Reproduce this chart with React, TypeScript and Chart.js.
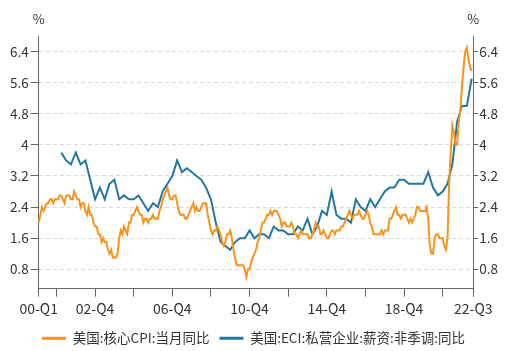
import React, { useEffect, useRef } from "react";
import { Chart, registerables } from "chart.js";

Chart.register(...registerables);

// US core CPI YoY (%), monthly 2000-01 .. 2022-06
const cpiCore2000 = [2.0, 2.2, 2.4, 2.3, 2.4, 2.5, 2.5, 2.6, 2.6, 2.5, 2.6, 2.6];
const cpiCore2001 = [2.6, 2.7, 2.7, 2.6, 2.5, 2.7, 2.7, 2.7, 2.6, 2.6, 2.8, 2.7];
const cpiCore2002 = [2.6, 2.6, 2.4, 2.5, 2.5, 2.3, 2.2, 2.4, 2.2, 2.2, 2.0, 1.9];
const cpiCore2003 = [1.9, 1.7, 1.7, 1.5, 1.6, 1.5, 1.5, 1.3, 1.2, 1.3, 1.1, 1.1];
const cpiCore2004 = [1.1, 1.2, 1.6, 1.8, 1.7, 1.9, 1.8, 1.7, 2.0, 2.0, 2.2, 2.2];
const cpiCore2005 = [2.3, 2.4, 2.3, 2.2, 2.2, 2.0, 2.1, 2.1, 2.0, 2.1, 2.1, 2.2];
const cpiCore2006 = [2.1, 2.1, 2.1, 2.3, 2.4, 2.6, 2.7, 2.8, 2.9, 2.7, 2.6, 2.6];
const cpiCore2007 = [2.7, 2.7, 2.5, 2.3, 2.2, 2.2, 2.2, 2.1, 2.1, 2.2, 2.3, 2.4];
const cpiCore2008 = [2.5, 2.3, 2.4, 2.3, 2.3, 2.4, 2.5, 2.5, 2.5, 2.2, 2.0, 1.8];
const cpiCore2009 = [1.7, 1.8, 1.8, 1.9, 1.8, 1.7, 1.5, 1.4, 1.5, 1.7, 1.7, 1.8];
const cpiCore2010 = [1.6, 1.3, 1.1, 0.9, 0.9, 0.9, 0.9, 0.9, 0.8, 0.6, 0.8, 0.8];
const cpiCore2011 = [1.0, 1.1, 1.2, 1.3, 1.5, 1.6, 1.8, 2.0, 2.0, 2.1, 2.2, 2.2];
const cpiCore2012 = [2.3, 2.2, 2.3, 2.3, 2.3, 2.2, 2.1, 1.9, 2.0, 2.0, 1.9, 1.9];
const cpiCore2013 = [1.9, 2.0, 1.9, 1.7, 1.7, 1.6, 1.7, 1.8, 1.7, 1.7, 1.7, 1.7];
const cpiCore2014 = [1.6, 1.6, 1.7, 1.8, 2.0, 1.9, 1.9, 1.7, 1.7, 1.8, 1.7, 1.6];
const cpiCore2015 = [1.6, 1.7, 1.8, 1.8, 1.7, 1.8, 1.8, 1.8, 1.9, 1.9, 2.0, 2.1];
const cpiCore2016 = [2.2, 2.3, 2.2, 2.1, 2.2, 2.2, 2.2, 2.3, 2.2, 2.1, 2.1, 2.2];
const cpiCore2017 = [2.3, 2.2, 2.0, 1.9, 1.7, 1.7, 1.7, 1.7, 1.7, 1.8, 1.7, 1.8];
const cpiCore2018 = [1.8, 1.8, 2.1, 2.1, 2.2, 2.3, 2.4, 2.2, 2.2, 2.1, 2.2, 2.2];
const cpiCore2019 = [2.2, 2.1, 2.0, 2.1, 2.0, 2.1, 2.2, 2.4, 2.4, 2.3, 2.3, 2.3];
const cpiCore2020 = [2.3, 2.4, 2.1, 1.4, 1.2, 1.2, 1.6, 1.7, 1.7, 1.6, 1.6, 1.6];
const cpiCore2021 = [1.4, 1.3, 1.6, 3.0, 3.8, 4.5, 4.3, 4.0, 4.0, 4.6, 4.9, 5.5];
const cpiCore2022 = [6.0, 6.4, 6.5, 6.2, 6.0, 5.9];

// US ECI private wages & salaries YoY (%), quarterly 2001-Q1 .. 2022-Q2
const eciValues = [
  3.8, 3.6, 3.5, 3.8,
  3.5, 3.6, 3.1, 2.6,
  2.9, 2.6, 3.0, 3.1,
  2.6, 2.7, 2.6, 2.6,
  2.7, 2.5, 2.3, 2.5,
  2.4, 2.8, 3.0, 3.2,
  3.6, 3.3, 3.4, 3.3,
  3.2, 3.1, 2.9, 2.6,
  2.0, 1.5, 1.4, 1.3,
  1.5, 1.6, 1.6, 1.8,
  1.6, 1.7, 1.7, 1.6,
  1.9, 1.8, 1.8, 1.7,
  1.7, 1.9, 1.8, 2.1,
  1.7, 1.9, 2.3, 2.2,
  2.8, 2.2, 2.1, 2.1,
  2.0, 2.6, 2.4, 2.3,
  2.6, 2.4, 2.6, 2.8,
  2.9, 2.9, 3.1, 3.1,
  3.0, 3.0, 3.0, 3.0,
  3.3, 2.9, 2.7, 2.8,
  3.0, 3.5, 4.6, 5.0,
  5.0, 5.7,
];

const startYear = 2000;
const endYear = 2022;
const endMonth = 7; // axis runs to 2022-07 (22-Q3)
const eciFirstMonthIndex = 14; // 2001-03 (end of 01-Q1)

const xTickIndices = [0, 11, 35, 59, 83, 107, 131, 155, 179, 203, 227, 251, 270];
const xLabelIndices = [0, 35, 83, 131, 179, 227, 270];
const yTickValues = [0.8, 1.6, 2.4, 3.2, 4, 4.8, 5.6, 6.4];

const seriesNames = ["美国:核心CPI:当月同比", "美国:ECI:私营企业:薪资:非季调:同比"];
const ORANGE = "#F7931E";
const BLUE = "#23779F";
const FONT = '"Noto Sans CJK SC", "Noto Sans", sans-serif';
const TEXT = "#333333";
const AXIS = "#666666";
const GRID = "#d9d9d9";

export default function App() {
  const ref = useRef<HTMLCanvasElement | null>(null);

  useEffect(() => {
    if (!ref.current) return;

    const labels: string[] = [];
    for (let y = startYear; y <= endYear; y++) {
      for (let m = 1; m <= 12; m++) {
        if (y === endYear && m > endMonth) break;
        labels.push(`${String(y % 100).padStart(2, "0")}-Q${Math.ceil(m / 3)}`);
      }
    }

    const cpi = [
      ...cpiCore2000, ...cpiCore2001, ...cpiCore2002, ...cpiCore2003, ...cpiCore2004,
      ...cpiCore2005, ...cpiCore2006, ...cpiCore2007, ...cpiCore2008, ...cpiCore2009,
      ...cpiCore2010, ...cpiCore2011, ...cpiCore2012, ...cpiCore2013, ...cpiCore2014,
      ...cpiCore2015, ...cpiCore2016, ...cpiCore2017, ...cpiCore2018, ...cpiCore2019,
      ...cpiCore2020, ...cpiCore2021, ...cpiCore2022,
    ];
    const eci: (number | null)[] = labels.map(() => null);
    eciValues.forEach((v, i) => {
      eci[eciFirstMonthIndex + 3 * i] = v;
    });

    const pctPlugin = {
      id: "pctTitles",
      afterDraw(chart: any) {
        const { ctx, chartArea, scales } = chart;
        ctx.save();
        ctx.font = `13px ${FONT}`;
        ctx.fillStyle = TEXT;
        ctx.textAlign = "center";
        ctx.textBaseline = "middle";
        ctx.fillText("%", scales.y.right, chartArea.top - 17);
        ctx.fillText("%", scales.y1.left, chartArea.top - 17);
        ctx.restore();
      },
    };

    const yTicksFix = (axis: any) => {
      axis.ticks = yTickValues.map((v) => ({ value: v }));
    };
    const fmt = (v: any) => String(Number(Number(v).toFixed(1)));

    const chart = new Chart(ref.current, {
      type: "line",
      data: {
        labels,
        datasets: [
          {
            label: seriesNames[0],
            data: cpi,
            borderColor: ORANGE,
            backgroundColor: ORANGE,
            borderWidth: 2,
            pointRadius: 0,
            tension: 0,
            yAxisID: "y",
          },
          {
            label: seriesNames[1],
            data: eci,
            borderColor: BLUE,
            backgroundColor: BLUE,
            borderWidth: 2,
            pointRadius: 0,
            tension: 0,
            spanGaps: true,
            yAxisID: "y",
          },
        ],
      },
      options: {
        animation: false,
        responsive: true,
        maintainAspectRatio: false,
        layout: { padding: { top: 36, left: 8, right: 17, bottom: -4 } },
        plugins: {
          tooltip: { enabled: false },
          legend: {
            position: "bottom",
            labels: {
              font: { family: FONT, size: 13.5 },
              color: TEXT,
              boxWidth: 24,
              boxHeight: 3,
              padding: 10,
              generateLabels: (chart: any) =>
                Chart.defaults.plugins.legend.labels
                  .generateLabels(chart)
                  .map((l: any) => ({ ...l, lineWidth: 0 })),
            },
          },
        },
        scales: {
          x: {
            type: "category",
            offset: false,
            afterBuildTicks: (axis: any) => {
              axis.ticks = axis.ticks.filter((t: any) => xTickIndices.includes(t.value));
            },
            grid: {
              display: true,
              drawOnChartArea: false,
              drawTicks: true,
              tickLength: 8,
              tickColor: AXIS,
            },
            border: { display: true, color: AXIS, width: 1 },
            ticks: {
              autoSkip: false,
              maxRotation: 0,
              minRotation: 0,
              padding: 4,
              color: TEXT,
              font: { family: FONT, size: 14 },
              callback: function (this: any, value: any) {
                return xLabelIndices.includes(Number(value)) ? this.getLabelForValue(value) : "";
              },
            },
          },
          y: {
            position: "left",
            min: 0.3,
            max: 6.8,
            afterBuildTicks: yTicksFix,
            grid: {
              color: GRID,
              drawTicks: true,
              tickLength: 8,
              tickColor: AXIS,
            },
            border: { display: true, color: AXIS, width: 1, dash: [4, 3] },
            ticks: {
              padding: 2,
              color: TEXT,
              font: { family: FONT, size: 13.5 },
              callback: fmt,
            },
          },
          y1: {
            position: "right",
            min: 0.3,
            max: 6.8,
            afterBuildTicks: yTicksFix,
            grid: {
              drawOnChartArea: false,
              drawTicks: true,
              tickLength: 5,
              tickColor: AXIS,
            },
            border: { display: true, color: AXIS, width: 1 },
            ticks: {
              padding: 1,
              color: TEXT,
              font: { family: FONT, size: 13.5 },
              callback: fmt,
            },
          },
        },
      },
      plugins: [pctPlugin],
    } as any);

    return () => chart.destroy();
  }, []);

  return (
    <div style={{ position: "absolute", left: 0, top: 0, width: 516, height: 351 }}>
      <canvas ref={ref} />
    </div>
  );
}
